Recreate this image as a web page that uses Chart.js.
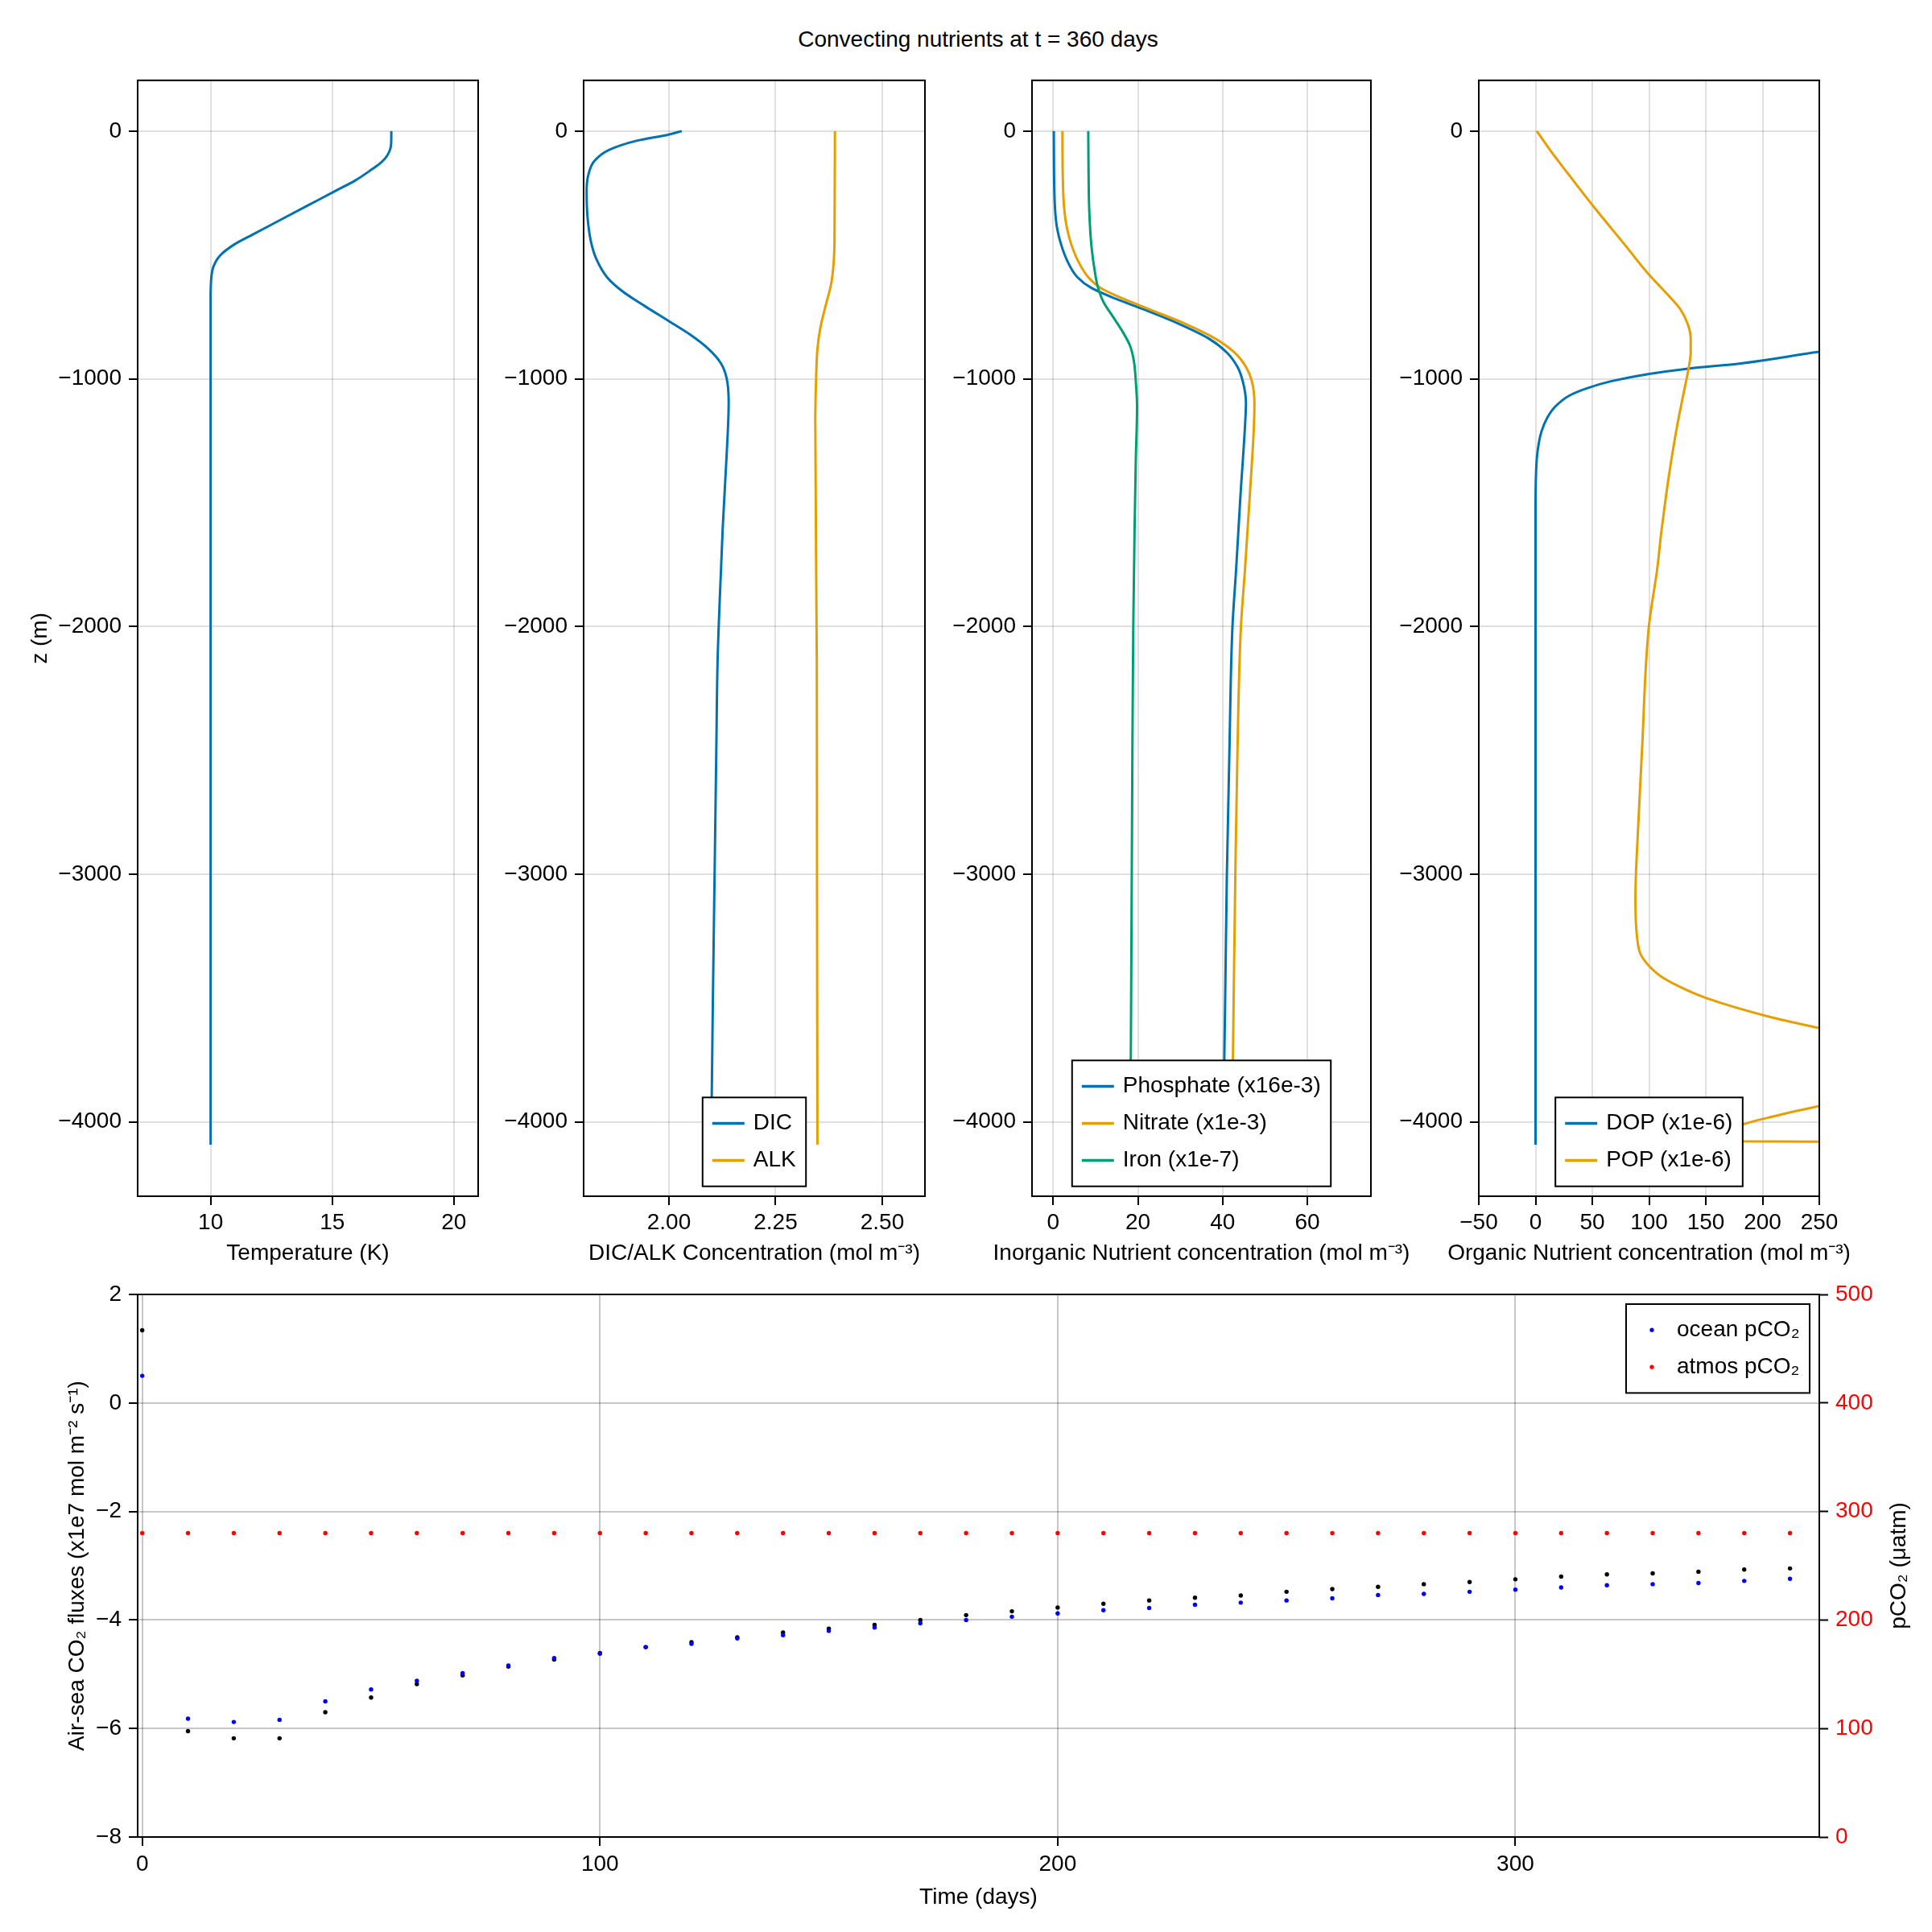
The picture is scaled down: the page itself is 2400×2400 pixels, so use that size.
<!DOCTYPE html>
<html>
<head>
<meta charset="utf-8">
<script src="https://cdn.jsdelivr.net/npm/chart.js@4.4.1/dist/chart.umd.min.js"></script>
<style>
  body { margin: 0; background: #fff; }
  #page { position: relative; width: 2400px; height: 2400px; overflow: hidden; }
  canvas { position: absolute; }
  #title {
    position: absolute; left: 1215px; top: 30px; transform: translateX(-50%);
    font: 28px "Liberation Sans", Arial, sans-serif; line-height: 38px; white-space: nowrap; color: #000;
  }
</style>
</head>
<body>
<div id="page">
  <div id="title">Convecting nutrients at t = 360 days</div>
  <canvas id="tempChart" width="654" height="1526" style="left:0px;top:74px"></canvas>
  <canvas id="carbChart" width="624" height="1526" style="left:585px;top:74px"></canvas>
  <canvas id="inorgChart" width="621" height="1526" style="left:1142px;top:74px"></canvas>
  <canvas id="orgChart" width="623" height="1526" style="left:1697px;top:74px"></canvas>
  <canvas id="fluxChart" width="2400" height="820" style="left:0px;top:1580px"></canvas>
</div>
<script>
// Global font settings:
Chart.defaults.font.family = '"Liberation Sans", Arial, sans-serif';
Chart.defaults.font.size = 28;
Chart.defaults.color = '#000';

// Constants
const COLORS = {
    BLUE: '#0072b2',
    ORANGE: '#e69f00',
    GREEN: '#009e73',
    GRID: 'rgba(0, 0, 0, 0.12)',
    GRID_DARK: 'rgba(0, 0, 0, 0.22)',
    OCEAN: '#0000ff',
    ATMOS: '#ff0000',
    FLUX: '#000000'
};

// ---- Profile data (depth in m) ----
const tempDepth = [0, -54, -97, -126, -155, -199, -242, -300, -358, -416, -459, -503, -546, -590, -677, -4092];
const temperature = [17.43, 17.42, 17.27, 17.02, 16.62, 15.95, 15.12, 14.0, 12.88, 11.76, 10.95, 10.38, 10.12, 10.03, 10.0, 10.0];

const dicDepth = [0, -14, -39, -75, -119, -177, -242, -344, -445, -517, -590, -648, -706, -764, -822, -880, -938, -996, -1097, -1170, -1314, -1604, -1894, -2138, -2500, -3000, -3500, -4092];
const dic = [2.030, 1.999, 1.924, 1.861, 1.826, 1.811, 1.807, 1.809, 1.817, 1.830, 1.855, 1.892, 1.943, 1.997, 2.050, 2.093, 2.122, 2.135, 2.140, 2.139, 2.135, 2.126, 2.119, 2.114, 2.111, 2.107, 2.103, 2.099];
const alkDepth = [0, -445, -532, -619, -706, -793, -880, -996, -1170, -2138, -3000, -4092];
const alk = [2.389, 2.388, 2.386, 2.380, 2.367, 2.355, 2.348, 2.345, 2.343, 2.3465, 2.347, 2.348];

const nutDepth = [0, -170, -314, -387, -459, -532, -590, -633, -677, -720, -778, -836, -894, -952, -1010, -1097, -1184, -1474, -1764, -2007, -2500, -3000, -3500, -4092];
const phosphate = [0.15, 0.2, 0.44, 0.87, 1.89, 3.56, 5.74, 9.0, 14.8, 21.4, 29.7, 36.6, 41.0, 43.5, 44.75, 45.5, 45.3, 44.2, 43.2, 42.3, 41.6, 41.0, 40.6, 40.1];
const nitrate = [2.18, 2.25, 2.6, 3.2, 4.3, 6.1, 8.3, 11.2, 16.6, 22.8, 31.2, 38.1, 42.8, 45.5, 46.9, 47.5, 47.4, 46.4, 45.3, 44.3, 43.5, 43.0, 42.6, 42.2];
const ironDepth = [0, -170, -314, -459, -575, -633, -691, -749, -807, -865, -923, -1010, -1112, -1329, -1619, -2007, -2500, -3000, -3500, -4092];
const iron = [8.28, 8.35, 8.5, 9.0, 9.9, 10.6, 11.9, 14.1, 16.3, 18.1, 19.0, 19.5, 19.8, 19.5, 19.2, 18.9, 18.7, 18.55, 18.4, 18.2];

const dopDepth = [0, -300, -500, -700, -800, -850, -891, -938, -959, -981, -1010, -1039, -1068, -1112, -1155, -1213, -1300, -1401, -1546, -4092];
const dop = [2600, 2100, 1500, 800, 430, 320, 250, 180.8, 134.5, 99.1, 66.4, 44.7, 29.7, 17.4, 10.6, 5.2, 1.6, 0.3, 0, 0];
const popDepth = [0, -97, -170, -314, -459, -575, -662, -720, -778, -836, -894, -952, -1039, -1184, -1329, -1474, -1619, -1764, -2007, -2500, -2800, -3100, -3300, -3400, -3450, -3500, -3580, -3621, -3700, -3780, -3860, -3936, -3975, -4012, -4040, -4078, -4092];
const pop = [1.1, 16.1, 28.3, 52.8, 78.7, 99.1, 116.8, 127.7, 134.0, 136.7, 136.7, 135.1, 131.3, 125.0, 119.6, 114.9, 110.8, 107.3, 99.7, 93.8, 90.5, 88.0, 90.9, 106.9, 125, 150.5, 210, 250, 330, 370, 330, 250, 212, 182, 176, 180, 700];

// ---- Time series ----
const timeDays = [0, 10, 20, 30, 40, 50, 60, 70, 80, 90, 100, 110, 120, 130, 140, 150, 160, 170, 180, 190, 200, 210, 220, 230, 240, 250, 260, 270, 280, 290, 300, 310, 320, 330, 340, 350, 360];
const co2Flux = [1.34, -6.05, -6.18, -6.18, -5.70, -5.43, -5.18, -5.02, -4.86, -4.73, -4.61, -4.50, -4.41, -4.32, -4.23, -4.16, -4.09, -4.00, -3.91, -3.84, -3.77, -3.70, -3.64, -3.59, -3.55, -3.48, -3.43, -3.39, -3.34, -3.30, -3.25, -3.20, -3.16, -3.14, -3.11, -3.07, -3.05];
const oceanPco2 = [425, 109, 106, 108, 125, 136, 144, 151, 158, 165, 169, 175, 178, 183, 186, 190, 193, 197, 200, 203, 206, 209, 211, 214, 216, 218, 220, 223, 224, 226, 228, 230, 232, 233, 234, 236, 238];
const atmosPco2 = [280, 280, 280, 280, 280, 280, 280, 280, 280, 280, 280, 280, 280, 280, 280, 280, 280, 280, 280, 280, 280, 280, 280, 280, 280, 280, 280, 280, 280, 280, 280, 280, 280, 280, 280, 280, 280];

// Tick values
const depthTicks = [0, -1000, -2000, -3000, -4000];
const tempTicks = [10, 15, 20];
const carbTicks = [2.0, 2.25, 2.5];
const inorgTicks = [0, 20, 40, 60];
const orgTicks = [-50, 0, 50, 100, 150, 200, 250];
const timeTicks = [0, 100, 200, 300];
const fluxTicks = [-8, -6, -4, -2, 0, 2];
const pco2Ticks = [0, 100, 200, 300, 400, 500];

const FONT = '28px "Liberation Sans", Arial, sans-serif';

// Unicode minus like the original
function minus(v) {
    return v < 0 ? '\u2212' + Math.abs(v) : String(v);
}

// Frame box, free axis titles and a boxed legend
const decorations = {
    id: 'decorations',
    afterDraw(chart, args, opts) {
        const { ctx, chartArea: a } = chart;
        ctx.save();
        ctx.strokeStyle = '#000';
        ctx.lineWidth = 2;
        ctx.strokeRect(a.left, a.top, a.right - a.left, a.bottom - a.top);

        ctx.font = FONT;
        ctx.textAlign = 'center';
        ctx.textBaseline = 'middle';
        for (const lab of opts.labels || []) {
            ctx.save();
            let x, y;
            if (lab.side === 'bottom') {
                x = (a.left + a.right) / 2;
                y = a.bottom + lab.offset;
            } else {
                x = lab.side === 'left' ? a.left - lab.offset : a.right + lab.offset;
                y = (a.top + a.bottom) / 2;
            }
            ctx.translate(x, y);
            if (lab.side !== 'bottom') ctx.rotate(-Math.PI / 2);
            ctx.fillStyle = lab.color || '#000';
            ctx.fillText(lab.text, 0, 0);
            ctx.restore();
        }

        const lg = opts.legend;
        if (lg) {
            const items = chart.data.datasets.filter(d => d.label);
            const textW = Math.max(...items.map(d => ctx.measureText(d.label).width));
            const w = 63 + textW + 12.5;
            const h = 18.4 + 46 * items.length;
            const x0 = lg.align === 'right' ? a.right - lg.margin - w : (a.left + a.right) / 2 - w / 2;
            const y0 = lg.valign === 'top' ? a.top + lg.margin : a.bottom - lg.margin - h;
            ctx.fillStyle = '#fff';
            ctx.fillRect(x0, y0, w, h);
            ctx.strokeStyle = '#000';
            ctx.lineWidth = 2;
            ctx.strokeRect(x0, y0, w, h);
            items.forEach((d, i) => {
                const cy = y0 + 9.2 + 23 + 46 * i;
                if (lg.marker === 'dot') {
                    ctx.fillStyle = d.backgroundColor;
                    ctx.beginPath();
                    ctx.arc(x0 + 32, cy, 2.6, 0, Math.PI * 2);
                    ctx.fill();
                } else {
                    ctx.strokeStyle = d.borderColor;
                    ctx.lineWidth = 3.5;
                    ctx.beginPath();
                    ctx.moveTo(x0 + 12, cy);
                    ctx.lineTo(x0 + 52, cy);
                    ctx.stroke();
                }
                ctx.fillStyle = '#000';
                ctx.textAlign = 'left';
                ctx.fillText(d.label, x0 + 63, cy);
            });
        }
        ctx.restore();
    }
};

function profile(label, depth, values, color, idx) {
    return {
        label: label,
        data: depth.map((z, i) => ({ x: values[i], y: z })),
        borderColor: color,
        backgroundColor: color,
        order: -idx
    };
}

function profileChart(canvasId, datasets, xMin, xMax, xTicks, xFmt, xTitle, yWidth, yTitle, legend) {
    const labels = [{ side: 'bottom', offset: 71, text: xTitle }];
    if (yTitle) labels.push({ side: 'left', offset: 121, text: yTitle });
    return new Chart(document.getElementById(canvasId), {
        type: 'line',
        data: { datasets: datasets },
        options: {
            responsive: false,
            animation: false,
            indexAxis: 'y',
            layout: { padding: { top: 19, right: 60, bottom: 0, left: 0 } },
            elements: {
                point: { radius: 0 },
                line: { borderWidth: 3, cubicInterpolationMode: 'monotone', capBezierPoints: false }
            },
            plugins: {
                legend: { display: false },
                tooltip: { enabled: false },
                decorations: { labels: labels, legend: legend }
            },
            scales: {
                x: {
                    type: 'linear',
                    position: 'bottom',
                    min: xMin,
                    max: xMax,
                    afterBuildTicks: s => { s.ticks = xTicks.map(v => ({ value: v })); },
                    afterFit: s => { s.height = 114; },
                    grid: { color: COLORS.GRID, lineWidth: 2, tickLength: 11, tickColor: '#000', tickWidth: 2 },
                    border: { display: false },
                    ticks: { padding: 5, maxRotation: 0, minRotation: 0, autoSkip: false, callback: xFmt }
                },
                y: {
                    type: 'linear',
                    position: 'left',
                    min: -4300,
                    max: 205,
                    afterBuildTicks: s => { s.ticks = depthTicks.map(v => ({ value: v })); },
                    afterFit: s => { s.width = yWidth; },
                    grid: { color: COLORS.GRID, lineWidth: 2, tickLength: 11, tickColor: '#000', tickWidth: 2 },
                    border: { display: false },
                    ticks: { padding: 9, autoSkip: false, callback: v => minus(v) }
                }
            }
        },
        plugins: [decorations]
    });
}

profileChart('tempChart',
    [profile(undefined, tempDepth, temperature, COLORS.BLUE, 0)],
    7, 21, tempTicks, v => String(v), 'Temperature (K)', 171, 'z (m)', null);

profileChart('carbChart',
    [profile('DIC', dicDepth, dic, COLORS.BLUE, 0), profile('ALK', alkDepth, alk, COLORS.ORANGE, 1)],
    1.8, 2.6, carbTicks, v => v.toFixed(2), 'DIC/ALK Concentration (mol m\u207B\u00B3)', 140, null,
    { align: 'center', valign: 'bottom', margin: 12.3 });

profileChart('inorgChart',
    [profile('Phosphate (x16e-3)', nutDepth, phosphate, COLORS.BLUE, 0),
     profile('Nitrate (x1e-3)', nutDepth, nitrate, COLORS.ORANGE, 1),
     profile('Iron (x1e-7)', ironDepth, iron, COLORS.GREEN, 2)],
    -5, 75, inorgTicks, v => minus(v), 'Inorganic Nutrient concentration (mol m\u207B\u00B3)', 140, null,
    { align: 'center', valign: 'bottom', margin: 12.3 });

profileChart('orgChart',
    [profile('DOP (x1e-6)', dopDepth, dop, COLORS.BLUE, 0), profile('POP (x1e-6)', popDepth, pop, COLORS.ORANGE, 1)],
    -50, 250, orgTicks, v => minus(v), 'Organic Nutrient concentration (mol m\u207B\u00B3)', 140, null,
    { align: 'center', valign: 'bottom', margin: 12.3 });

// ---- Bottom: air-sea fluxes and pCO2 ----
function series(values) {
    return timeDays.map((t, i) => ({ x: t, y: values[i] }));
}

new Chart(document.getElementById('fluxChart'), {
    type: 'scatter',
    data: {
        datasets: [{
            label: 'ocean pCO\u2082',
            data: series(oceanPco2),
            yAxisID: 'yR',
            backgroundColor: COLORS.OCEAN,
            borderWidth: 0,
            pointRadius: 2.7
        }, {
            label: 'atmos pCO\u2082',
            data: series(atmosPco2),
            yAxisID: 'yR',
            backgroundColor: COLORS.ATMOS,
            borderWidth: 0,
            pointRadius: 2.7
        }, {
            data: series(co2Flux),
            yAxisID: 'y',
            backgroundColor: COLORS.FLUX,
            borderWidth: 0,
            pointRadius: 2.7
        }]
    },
    options: {
        responsive: false,
        animation: false,
        layout: { padding: { top: 28, right: 0, bottom: 0, left: 0 } },
        plugins: {
            legend: { display: false },
            tooltip: { enabled: false },
            decorations: {
                labels: [
                    { side: 'bottom', offset: 75, text: 'Time (days)' },
                    { side: 'left', offset: 75, text: 'Air-sea CO\u2082 fluxes (x1e7 mol m\u207B\u00B2 s\u207B\u00B9)' },
                    { side: 'right', offset: 99, text: 'pCO\u2082 (\u03BCatm)' }
                ],
                legend: { align: 'right', valign: 'top', margin: 12, marker: 'dot' }
            }
        },
        scales: {
            x: {
                type: 'linear',
                min: -1,
                max: 366.4,
                afterBuildTicks: s => { s.ticks = timeTicks.map(v => ({ value: v })); },
                afterFit: s => { s.height = 118; },
                grid: { color: COLORS.GRID_DARK, lineWidth: 2, tickLength: 11, tickColor: '#000', tickWidth: 2 },
                border: { display: false },
                ticks: { padding: 6, maxRotation: 0, minRotation: 0, autoSkip: false }
            },
            y: {
                type: 'linear',
                position: 'left',
                min: -8,
                max: 2,
                afterBuildTicks: s => { s.ticks = fluxTicks.map(v => ({ value: v })); },
                afterFit: s => { s.width = 171; },
                grid: { color: COLORS.GRID_DARK, lineWidth: 2, tickLength: 11, tickColor: '#000', tickWidth: 2 },
                border: { display: false },
                ticks: { padding: 9, autoSkip: false, callback: v => minus(v) }
            },
            yR: {
                type: 'linear',
                position: 'right',
                min: 0,
                max: 500,
                afterBuildTicks: s => { s.ticks = pco2Ticks.map(v => ({ value: v })); },
                afterFit: s => { s.width = 140; },
                grid: { drawOnChartArea: false, tickLength: 11, tickColor: '#000', tickWidth: 2 },
                border: { display: false },
                ticks: { padding: 9, autoSkip: false, color: COLORS.ATMOS }
            }
        }
    },
    plugins: [decorations]
});
</script>
</body>
</html>
